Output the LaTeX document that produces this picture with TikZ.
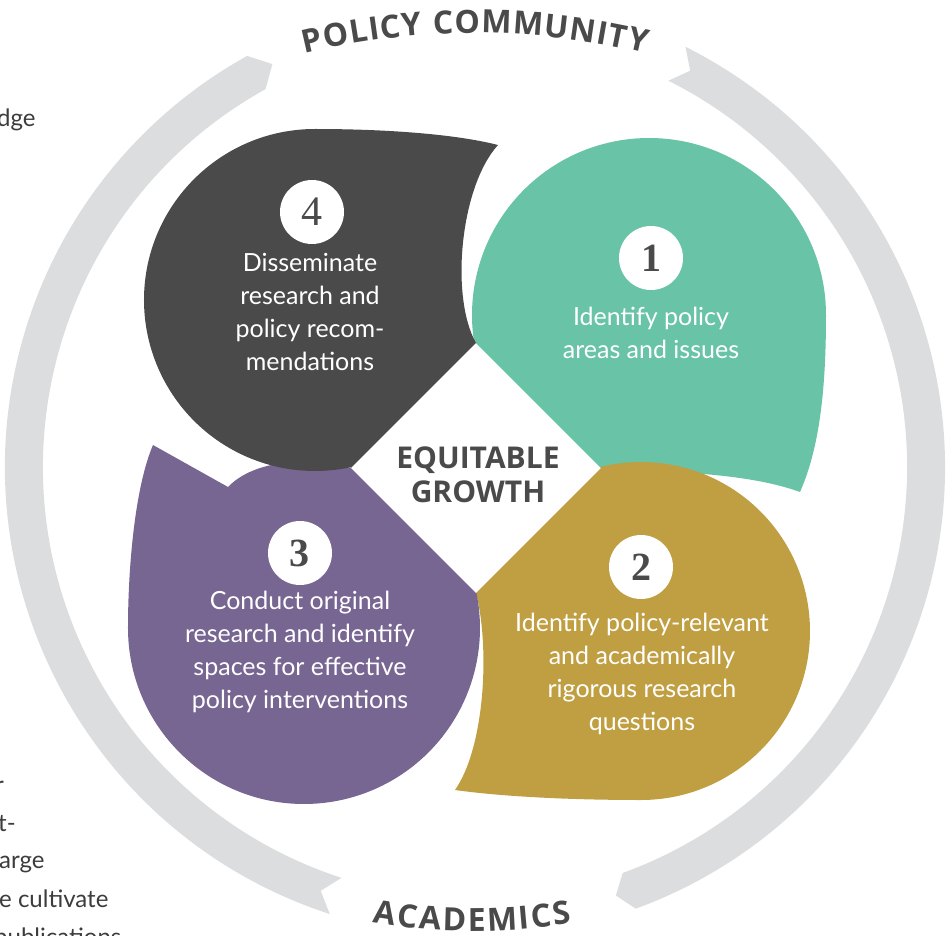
\documentclass[tikz,border=0pt]{standalone}
\usepackage{fontspec}
\setmainfont{Lato}
\newfontfamily\headfont{Open Sans}
\newfontfamily\numfont{Liberation Serif}
\usepackage{tikz}
\usetikzlibrary{decorations.text}

\definecolor{ringgray}{HTML}{DCDDDF}
\definecolor{darkbub}{HTML}{4A4A4A}
\definecolor{tealbub}{HTML}{69C3A7}
\definecolor{goldbub}{HTML}{BF9F41}
\definecolor{purplebub}{HTML}{776592}
\definecolor{headgray}{HTML}{4A4A4A}
\definecolor{bodygray}{HTML}{3C3C3C}

\begin{document}
\begin{tikzpicture}[x=1pt,y=1pt]
			\useasboundingbox (-475,-468) rectangle (473,467);
			\clip (-475,-468) rectangle (473,467);

			\fill[ringgray] (63.4:470) arc[start angle=63.4,end angle=-70,radius=470]
				-- (-71.8:451) -- (-70:432) arc[start angle=-70,end angle=63.4,radius=432]
				-- (61.5:451) -- cycle;
			\fill[ringgray] (252:470) arc[start angle=252,end angle=119,radius=470]
				-- (116.7:451) -- (119:432) arc[start angle=119,end angle=252,radius=432]
				-- (250:451) -- cycle;

			\path[decorate,decoration={text along path,text align=fit to path,
				text={|\headfont\bfseries\fontsize{32}{32}\selectfont\color{headgray}|POLICY COMMUNITY}}]
				(-170.5,413.5) arc[start angle=103.7,end angle=76.3,radius=720];
			\path[decorate,decoration={text along path,text align=fit to path,
				text={|\headfont\bfseries\fontsize{32}{32}\selectfont\color{headgray}|ACADEMICS}}]
				(-102.5,-455.7) arc[start angle=260.45,end angle=279.55,radius=600];

			\coordinate (T) at (1,124);
			\coordinate (R) at (126,-1);
			\coordinate (B) at (1,-126);
			\coordinate (L) at (-124,-1);

			\fill[tealbub] (T) -- (R) .. controls (190,-5) and (270,-5) .. (325,-25)
				.. controls (345,20) and (351,80) .. (351,152)
				arc[start angle=0,end angle=189.2,radius=177] -- cycle;
			\fill[goldbub] (R) -- (B) .. controls (15,-180) and (10,-280) .. (-20,-323)
				.. controls (30,-330) and (100,-333) .. (166,-333)
				arc[start angle=270,end angle=463.8,radius=169] -- cycle;
			\fill[purplebub] (B) -- (L) .. controls (-165,10) and (-220,8) .. (-247,-20)
				-- (-322,22) .. controls (-340,-20) and (-347,-100) .. (-347,-161)
				arc[start angle=180,end angle=371.5,radius=176] -- cycle;
			\fill[darkbub] (L) -- (T) .. controls (-25,170) and (-15,280) .. (23,322)
				.. controls (-20,333) and (-90,338) .. (-160,338)
				arc[start angle=90,end angle=282.1,radius=171] -- cycle;

			\begin{scope}[every node/.style={circle,fill=white,inner sep=0pt,minimum size=64pt,
				text=headgray,font=\numfont\bfseries\fontsize{40}{40}\selectfont}]
				\node (n1) at (176,209) {1};
				\node (n2) at (166,-100) {2};
				\node (n3) at (-175,-86) {3};
				\node[font=\numfont\fontsize{42}{42}\selectfont] (n4) at (-163,255) {4};
			\end{scope}

			\begin{scope}[every node/.style={text=white,align=center,inner sep=0pt,
				font=\fontsize{25}{33}\selectfont}]
				\node (s1) at (176,134) {Identify policy\\areas and issues};
				\node (s2) at (167,-206.5) {Identify policy-relevant\\and academically\\rigorous research\\questions};
				\node (s3) at (-175,-185) {Conduct original\\research and identify\\spaces for effective\\policy interventions};
				\node (s4) at (-165,155.5) {Disseminate\\research and\\policy recom-\\mendations};
			\end{scope}

			\node[text=headgray,align=center,inner sep=0pt,
				font=\headfont\bfseries\fontsize{30}{34}\selectfont] (hub) at (3,-8) {EQUITABLE\\GROWTH};

			\begin{scope}[every node/.style={anchor=base west,inner sep=0pt,text=bodygray,
				font=\fontsize{24}{24}\selectfont}]
				\node (c1) at (-478,340) {dge};
				\node[anchor=base east] (c2) at (-471,-326) {r};
				\node (c3) at (-477,-364) {t-};
				\node (c4) at (-476,-401) {arge};
				\node (c5) at (-476,-440) {e cultivate};
				\node (c6) at (-481,-478) {publications};
			\end{scope}
		\end{tikzpicture}
\end{document}
